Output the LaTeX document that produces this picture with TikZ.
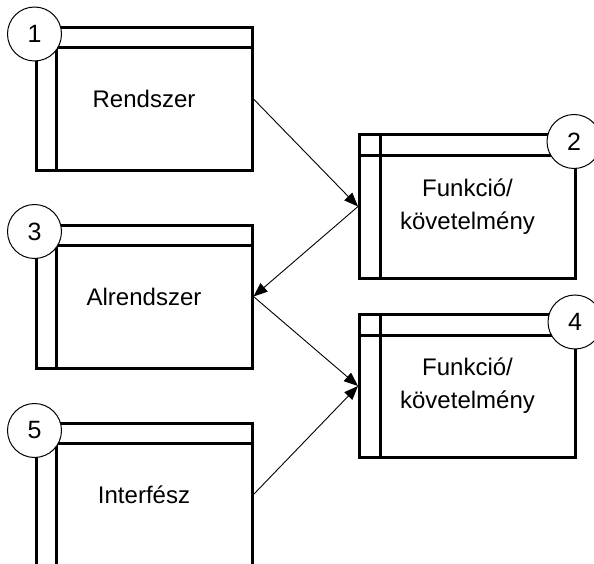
\documentclass[tikz,border=0pt]{standalone}
\usepackage{fontspec}
\setmainfont{Liberation Sans}
\usetikzlibrary{arrows.meta}

\tikzset{
  entity/.style={draw, line width=3pt, minimum width=216pt, minimum height=143pt,
                 inner sep=0pt, align=center, font=\fontsize{24}{33}\selectfont},
  tag/.style={circle, draw, fill=white, line width=1pt, minimum size=54pt,
              inner sep=0pt, font=\fontsize{25}{28}\selectfont},
  link/.style={line width=0.9pt, -{Triangle[length=14pt,width=11pt]}}
}

\begin{document}
\begin{tikzpicture}[x=1pt,y=-1pt]
	\clip (0,0) rectangle (594,564);
	\fill[white] (0,0) rectangle (594,564);

	% boxes
	\node[entity] (r1) at (144,99) {Rendszer};
	\node[entity] (r2) at (467.5,206.5) {Funkció/\\követelmény};
	\node[entity] (r3) at (144,296.5) {Alrendszer};
	\node[entity] (r4) at (467.5,386) {Funkció/\\követelmény};
	\node[entity] (r5) at (144,494.5) {Interfész};

	% header strip and side strip
	\foreach \b in {r1,r2,r3,r4,r5}{
	    \draw[line width=3pt] ([xshift=22pt]\b.north west) -- ([xshift=22pt]\b.south west);
	    \draw[line width=3pt] ([yshift=-22pt]\b.north west) -- ([yshift=-22pt]\b.north east);
	}

	% numbers
	\node[tag] (n1) at ([yshift=-8pt]r1.north west) {1};
	\node[tag] (n2) at ([xshift=-3pt,yshift=-8pt]r2.north east) {2};
	\node[tag] (n3) at ([yshift=-8pt]r3.north west) {3};
	\node[tag] (n4) at ([xshift=-2pt,yshift=-9pt]r4.north east) {4};
	\node[tag] (n5) at ([yshift=-9pt]r5.north west) {5};

	% links
	\draw[link] (r1.east) -- (r2.west);
	\draw[link] (r2.west) -- (r3.east);
	\draw[link] (r3.east) -- (r4.west);
	\draw[link] (r5.east) -- (r4.west);
\end{tikzpicture}
\end{document}
